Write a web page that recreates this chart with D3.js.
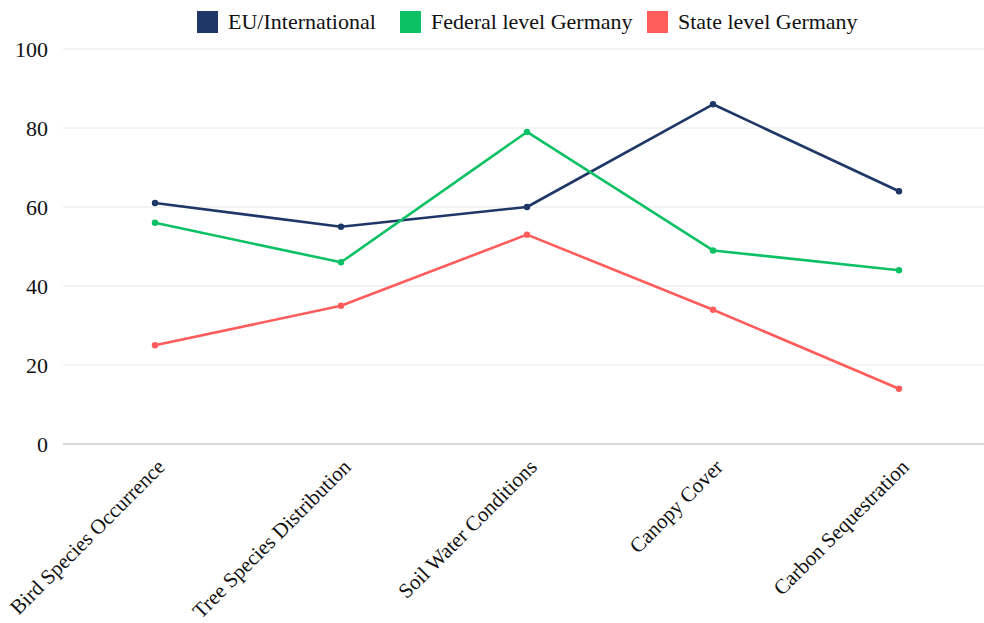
<!DOCTYPE html>
<html>
<head>
<meta charset="utf-8">
<script src="https://cdn.jsdelivr.net/npm/d3@7"></script>
<style>
  body { margin: 0; background: #fff; }
  text { font-family: "Liberation Serif", "Times New Roman", serif; fill: #111; }
</style>
</head>
<body>
<div id="chart"></div>
<script>
const categories = ["Bird Species Occurrence", "Tree Species Distribution", "Soil Water Conditions", "Canopy Cover", "Carbon Sequestration"];
const seriesNames = ["EU/International", "Federal level Germany", "State level Germany"];
const euValues = [61, 55, 60, 86, 64];
const federalValues = [56, 46, 79, 49, 44];
const stateValues = [25, 35, 53, 34, 14];
const yTicks = [0, 20, 40, 60, 80, 100];
const colors = ["#1f3766", "#0cc064", "#ff5c5c"];

const series = [euValues, federalValues, stateValues].map((vals, i) => ({
  name: seriesNames[i], color: colors[i], values: vals
}));

const w = 984, h = 623;
const svg = d3.select("#chart").append("svg")
  .attr("width", w)
  .attr("height", h);

const x = d3.scaleBand().domain(categories).range([62, 992]);
const y = d3.scaleLinear().domain([0, 100]).range([444, 49]);

// grid
svg.append("g")
  .selectAll("line")
  .data(yTicks)
  .join("line")
  .attr("x1", 63).attr("x2", w)
  .attr("y1", d => y(d)).attr("y2", d => y(d))
  .attr("stroke", d => d === 0 ? "#cccccc" : "#e8e8e8")
  .attr("stroke-width", d => d === 0 ? 1.5 : 1);

// y axis labels
const yAxis = svg.append("g")
  .attr("transform", "translate(63,0)")
  .call(d3.axisLeft(y).tickValues(yTicks).tickSize(0).tickPadding(15));
yAxis.select(".domain").remove();
yAxis.selectAll("text")
  .attr("font-size", 22)
  .attr("font-family", "Liberation Serif")
  .attr("fill", "#111");

// x axis labels
const xAxis = svg.append("g")
  .attr("transform", "translate(0,444)")
  .call(d3.axisBottom(x).tickSize(0));
xAxis.select(".domain").remove();
xAxis.selectAll("text")
  .attr("font-size", 21)
  .attr("font-family", "Liberation Serif")
  .attr("fill", "#111")
  .attr("text-anchor", "end")
  .attr("transform", "translate(6,19) rotate(-45)")
  .attr("dy", "0.35em")
  .attr("y", 0);

const line = d3.line()
  .x((d, i) => x(categories[i]) + x.bandwidth() / 2)
  .y(d => y(d));

series.forEach(s => {
  svg.append("path")
    .datum(s.values)
    .attr("fill", "none")
    .attr("stroke", s.color)
    .attr("stroke-width", 2.6)
    .attr("stroke-linejoin", "round")
    .attr("d", line);
  svg.append("g")
    .selectAll("circle")
    .data(s.values)
    .join("circle")
    .attr("cx", (d, i) => x(categories[i]) + x.bandwidth() / 2)
    .attr("cy", d => y(d))
    .attr("r", 3.2)
    .attr("fill", s.color);
});

// legend
const legendX = [197, 400, 647];
const legend = svg.append("g");
series.forEach((s, i) => {
  const g = legend.append("g").attr("transform", `translate(${legendX[i]},11)`);
  g.append("rect").attr("width", 21).attr("height", 22).attr("fill", s.color);
  g.append("text")
    .attr("x", 31).attr("y", 18)
    .attr("font-size", 22)
    .text(s.name);
});
</script>
</body>
</html>
